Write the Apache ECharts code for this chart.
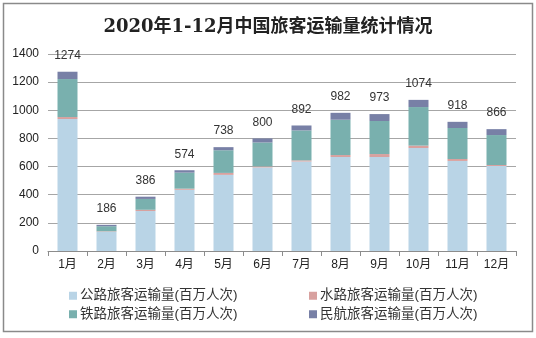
<!DOCTYPE html>
<html>
<head>
<meta charset="utf-8">
<script src="https://cdn.jsdelivr.net/npm/echarts@6/dist/echarts.min.js"></script>
<style>
  html, body { margin: 0; padding: 0; background: #fff; }
  #chart { width: 536px; height: 338px; }
</style>
</head>
<body>
<div id="chart"></div>
<script>
// 2020年各月旅客运输量（百万人次）
const months = ['1月', '2月', '3月', '4月', '5月', '6月', '7月', '8月', '9月', '10月', '11月', '12月'];
const highway = [938, 137, 284, 435, 541, 594, 636, 668, 668, 732, 640, 604];
const waterway = [14, 3, 9, 8, 14, 7, 8, 14, 21, 17, 14, 7];
const railway = [270, 36, 77, 114, 161, 170, 213, 251, 235, 274, 220, 213];
const aviation = [52, 10, 16, 17, 22, 29, 35, 49, 49, 51, 44, 42];
const yTicks = [0, 200, 400, 600, 800, 1000, 1200, 1400];

const names = ['公路旅客运输量(百万人次)', '水路旅客运输量(百万人次)', '铁路旅客运输量(百万人次)', '民航旅客运输量(百万人次)'];
const colors = ['#B9D4E6', '#D8A19F', '#79B0AE', '#7880A6'];

const totals = months.map((_, i) => highway[i] + waterway[i] + railway[i] + aviation[i]);

const font = '"Liberation Sans", "Noto Sans CJK SC", sans-serif';

const chart = echarts.init(document.getElementById('chart'), null, { renderer: 'canvas' });

function bar(idx, data, withLabel) {
  const s = {
    name: names[idx],
    type: 'bar',
    stack: 'total',
    barWidth: 20,
    data: data,
    itemStyle: { color: colors[idx] },
    emphasis: { disabled: true }
  };
  if (withLabel) {
    s.label = {
      show: true,
      position: 'top',
      distance: 10,
      color: '#333',
      fontSize: 12,
      fontFamily: font,
      formatter: p => String(totals[p.dataIndex])
    };
  }
  return s;
}

function legendBox(items, left) {
  return {
    data: items,
    orient: 'vertical',
    left: left,
    top: 284,
    itemWidth: 8,
    itemHeight: 8,
    itemGap: 5,
    icon: 'rect',
    selectedMode: false,
    textStyle: { fontSize: 13.5, color: '#333', fontFamily: font, padding: [0, 0, 0, -2] }
  };
}

chart.setOption({
  animation: false,
  backgroundColor: '#fff',
  title: {
    text: '2020年1-12月中国旅客运输量统计情况',
    left: 'center',
    top: 13,
    textStyle: {
      fontSize: 18,
      fontWeight: 'bold',
      color: '#222',
      fontFamily: '"DejaVu Serif", "Noto Sans CJK SC", serif'
    }
  },
  graphic: [{
    type: 'rect',
    shape: { x: 3.5, y: 3.5, width: 529, height: 328 },
    style: { fill: 'none', stroke: '#8a8a8a', lineWidth: 1.5 },
    silent: true,
    z: -1
  }],
  legend: [
    legendBox([names[0], names[2]], 64),
    legendBox([names[1], names[3]], 304)
  ],
  grid: { left: 48, right: 20, top: 54, bottom: 87 },
  xAxis: {
    type: 'category',
    data: months,
    axisLine: { lineStyle: { color: '#8c8c8c', width: 1 } },
    axisTick: { show: true, length: 5, lineStyle: { color: '#8c8c8c' } },
    axisLabel: { color: '#222', fontSize: 12, margin: 8, fontFamily: font }
  },
  yAxis: {
    type: 'value',
    min: yTicks[0],
    max: yTicks[yTicks.length - 1],
    interval: yTicks[1] - yTicks[0],
    axisLine: { show: false },
    axisTick: { show: false },
    axisLabel: { color: '#222', fontSize: 12, margin: 9, fontFamily: font, formatter: v => String(v) },
    splitLine: { lineStyle: { color: '#a6a6a6', width: 1 } }
  },
  series: [
    bar(0, highway, false),
    bar(1, waterway, false),
    bar(2, railway, false),
    bar(3, aviation, true)
  ]
});
</script>
</body>
</html>
